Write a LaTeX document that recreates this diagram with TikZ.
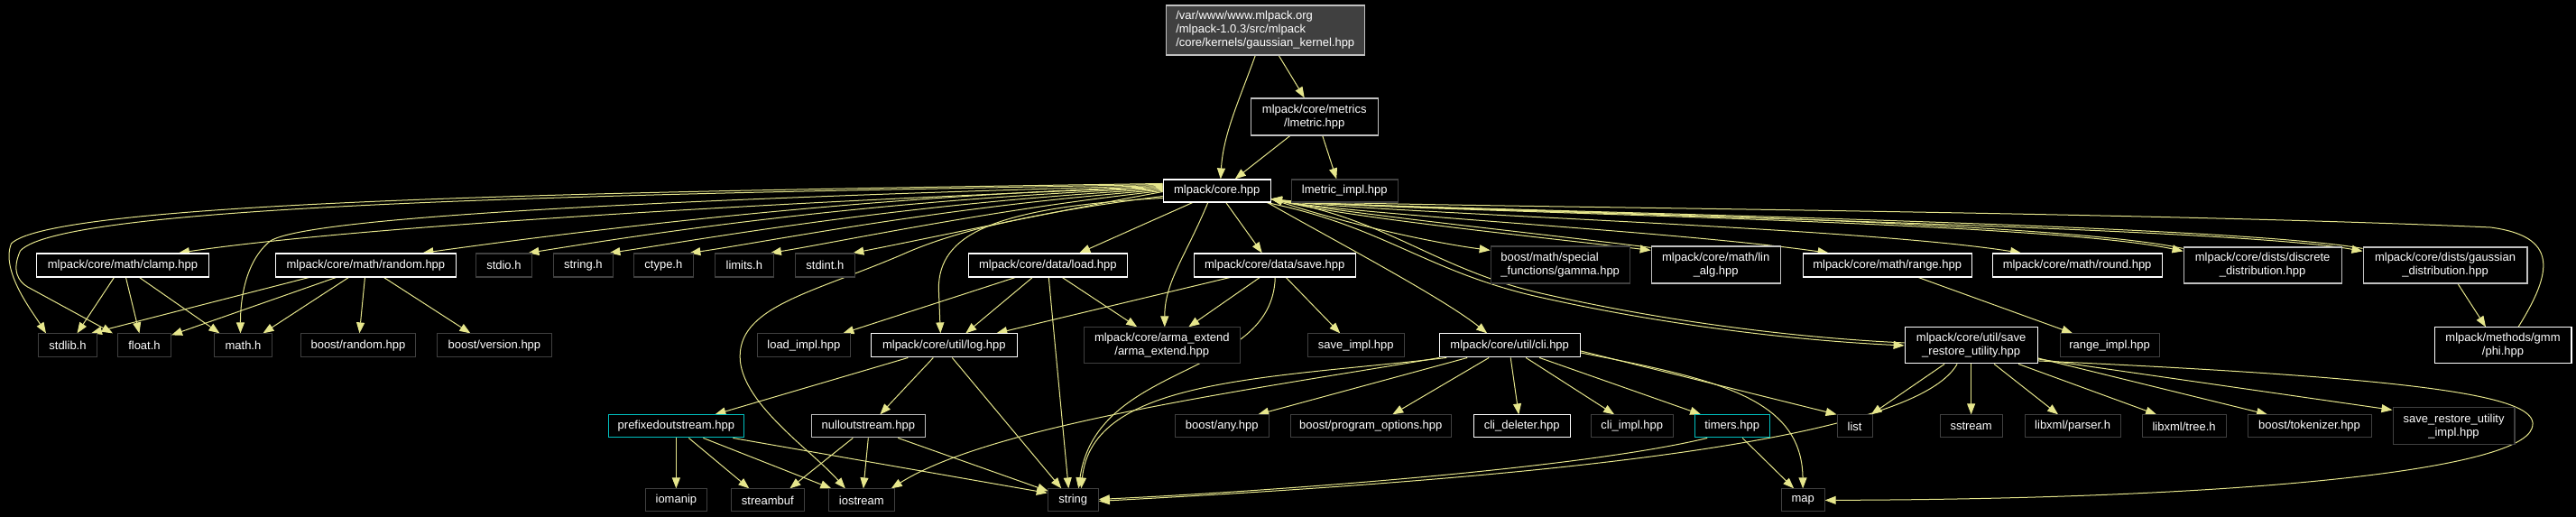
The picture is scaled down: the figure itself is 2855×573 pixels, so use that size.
\documentclass[tikz,border=0pt]{standalone}
\usepackage{fontspec}
\setmainfont{Liberation Sans}
\usetikzlibrary{arrows.meta}
\pgfdeclarelayer{background}
\pgfsetlayers{background,main}
\definecolor{ecol}{RGB}{230,230,140}
\definecolor{extc}{RGB}{64,64,64}
\definecolor{docgc}{RGB}{192,192,192}
\definecolor{trc}{RGB}{0,191,191}
\definecolor{rootf}{RGB}{64,64,64}
\begin{document}
\begin{tikzpicture}[x=1pt,y=-1pt,
  fbox/.style={draw, fill=black, text=white, inner sep=0pt, align=center, line width=1.1pt, font=\fontsize{13}{15}\selectfont},
  nodew/.style={fbox, draw=white},
  nodeg/.style={fbox, draw=docgc},
  nodex/.style={fbox, draw=extc},
  nodet/.style={fbox, draw=trc},
  wh/.style 2 args={minimum width=#1pt, minimum height=#2pt},
  conn/.style={draw=ecol, line width=1pt, -{Triangle[length=12pt,width=9pt]}}
]
% row 0/1
\node[fbox, draw=docgc, fill=rootf, align=left, wh={220}{55}] (gk) at (1402,33.5) {/var/www/www.mlpack.org\\/mlpack-1.0.3/src/mlpack\\/core/kernels/gaussian\_kernel.hpp};
\node[nodeg, wh={141}{41}] (lmetric) at (1456.5,129.5) {mlpack/core/metrics\\/lmetric.hpp};
\node[nodew, wh={119}{25}] (core) at (1348.5,211.5) {mlpack/core.hpp};
\node[nodex, wh={118}{25}] (lmimpl) at (1490,211.5) {lmetric\_impl.hpp};

% row 2
\node[nodew, wh={191}{26}] (clamp) at (135.5,294) {mlpack/core/math/clamp.hpp};
\node[nodew, wh={200}{26}] (random) at (405,294) {mlpack/core/math/random.hpp};
\node[nodex, wh={62}{26}] (stdio) at (558,294) {stdio.h};
\node[nodex, wh={66}{26}] (stringh) at (646,294) {string.h};
\node[nodex, wh={66}{26}] (ctype) at (735,294) {ctype.h};
\node[nodex, wh={65}{26}] (limits) at (824.5,294) {limits.h};
\node[nodex, wh={66}{26}] (stdint) at (914,294) {stdint.h};
\node[nodew, wh={176}{26}] (load) at (1161,294) {mlpack/core/data/load.hpp};
\node[nodew, wh={179}{26}] (save) at (1412.5,294) {mlpack/core/data/save.hpp};
\node[nodex, align=left, wh={154}{41}] (gamma) at (1729,293.5) {boost/math/special\\\_functions/gamma.hpp};
\node[nodeg, wh={143}{41}] (linalg) at (1901.5,293.5) {mlpack/core/math/lin\\\_alg.hpp};
\node[nodew, wh={187}{26}] (range) at (2091.5,294) {mlpack/core/math/range.hpp};
\node[nodew, wh={188}{26}] (round) at (2302,294) {mlpack/core/math/round.hpp};
\node[nodeg, wh={175}{40}] (discrete) at (2507.5,294) {mlpack/core/dists/discrete\\\_distribution.hpp};
\node[nodeg, wh={182}{40}] (gaussd) at (2710,294) {mlpack/core/dists/gaussian\\\_distribution.hpp};

% row 3
\node[nodex, wh={65}{26}] (stdlib) at (74.5,383) {stdlib.h};
\node[nodex, wh={59}{26}] (float) at (159.5,383) {float.h};
\node[nodex, wh={64}{26}] (math) at (269,383) {math.h};
\node[nodex, wh={127}{26}] (brandom) at (396.5,383) {boost/random.hpp};
\node[nodex, wh={127}{26}] (bversion) at (547.5,383) {boost/version.hpp};
\node[nodex, wh={103}{26}] (loadimpl) at (890.5,383) {load\_impl.hpp};
\node[nodew, wh={162}{26}] (log) at (1046,383) {mlpack/core/util/log.hpp};
\node[nodex, wh={173}{40}] (arma) at (1287.5,383) {mlpack/core/arma\_extend\\/arma\_extend.hpp};
\node[nodex, wh={107}{26}] (saveimpl) at (1502.5,383) {save\_impl.hpp};
\node[nodew, wh={156}{26}] (cli) at (1673,383) {mlpack/core/util/cli.hpp};
\node[nodew, wh={147}{40}] (sru) at (2184.5,383) {mlpack/core/util/save\\\_restore\_utility.hpp};
\node[nodex, wh={110}{26}] (rangeimpl) at (2338,383) {range\_impl.hpp};
\node[nodew, wh={152}{40}] (phi) at (2774,383) {mlpack/methods/gmm\\/phi.hpp};

% row 4
\node[nodet, wh={150}{25}] (prefixed) at (749,472.5) {prefixedoutstream.hpp};
\node[nodeg, wh={126}{25}] (nullout) at (962,472.5) {nulloutstream.hpp};
\node[nodex, wh={104}{25}] (bany) at (1354,472.5) {boost/any.hpp};
\node[nodex, wh={178}{25}] (bpo) at (1519,472.5) {boost/program\_options.hpp};
\node[nodew, wh={107}{25}] (clidel) at (1686.5,472.5) {cli\_deleter.hpp};
\node[nodex, wh={91}{25}] (cliimpl) at (1808.5,472.5) {cli\_impl.hpp};
\node[nodet, wh={83}{25}] (timers) at (1919.5,472.5) {timers.hpp};
\node[nodex, wh={39}{25}] (list) at (2055.5,472.5) {list};
\node[nodex, wh={69}{25}] (sstream) at (2184.5,472.5) {sstream};
\node[nodex, wh={106}{25}] (parser) at (2297,472.5) {libxml/parser.h};
\node[nodex, wh={93}{25}] (tree) at (2420.5,472.5) {libxml/tree.h};
\node[nodex, wh={137}{25}] (tokenizer) at (2559.5,472.5) {boost/tokenizer.hpp};
\node[nodex, wh={135}{41}] (sruimpl) at (2719.5,472.5) {save\_restore\_utility\\\_impl.hpp};

% row 5
\node[nodex, wh={68}{25}] (iomanip) at (749,554.5) {iomanip};
\node[nodex, wh={81}{25}] (streambuf) at (850.5,554.5) {streambuf};
\node[nodex, wh={73}{25}] (iostream) at (954.5,554.5) {iostream};
\node[nodex, wh={56}{25}] (string) at (1189,554.5) {string};
\node[nodex, wh={48}{25}] (map) at (1998,554.5) {map};

\begin{pgfonlayer}{background}
\fill[black] (0,0) rectangle (2855,573);

% top edges
\draw[conn] ([xshift=-11pt]gk.south) .. controls +(-18,50) and +(3,-50) .. ([xshift=4pt]core.north);
\draw[conn] ([xshift=15pt]gk.south) -- ([xshift=-11pt]lmetric.north);
\draw[conn] ([xshift=-27pt]lmetric.south) -- ([xshift=20pt]core.north);
\draw[conn] ([xshift=9pt]lmetric.south) -- ([xshift=-9pt]lmimpl.north);

% core -> left
\draw[conn] ([yshift=4pt]core.west) .. controls (900,222) and (400,250) .. ([xshift=62pt]clamp.north);
\draw[conn] ([yshift=5pt]core.west) .. controls (950,218) and (650,255) .. ([xshift=63pt]random.north);
\draw[conn] ([yshift=3pt]core.west) .. controls (950,222) and (700,262) .. ([xshift=27pt]stdio.north);
\draw[conn] ([yshift=2pt]core.west) .. controls (1000,225) and (780,265) .. ([xshift=29pt]stringh.north);
\draw[conn] ([yshift=1pt]core.west) .. controls (1050,228) and (850,268) .. ([xshift=29pt]ctype.north);
\draw[conn] (core.west) .. controls (1100,232) and (930,268) .. ([xshift=29pt]limits.north);
\draw[conn] ([yshift=-1pt]core.west) .. controls (1150,238) and (1010,268) .. ([xshift=31pt]stdint.north);
\draw[conn] ([yshift=8pt]core.west) .. controls (700,212) and (60,222) .. (12,270) .. controls (0,300) and (35,345) .. ([xshift=-24pt]stdlib.north);
\draw[conn] ([yshift=7pt]core.west) .. controls (700,215) and (70,225) .. (22,278) .. controls (12,300) and (20,312) .. (30,318) -- ([xshift=-35pt]float.north);
\draw[conn] ([yshift=6pt]core.west) .. controls (700,222) and (330,242) .. (298,268) .. controls (272,290) and (266,330) .. ([xshift=-3pt]math.north);

% core -> down
\draw[conn] ([xshift=-27pt]core.south) -- ([xshift=35pt]load.north);
\draw[conn] ([xshift=10pt]core.south) -- ([xshift=-14pt]save.north);
\draw[conn] ([xshift=-10pt]core.south) .. controls +(-25,60) and +(0,-50) .. ([xshift=3pt]arma.north);
\draw[conn] ([yshift=-8pt]core.west) .. controls (1100,230) and (1040,260) .. (1040,320) -- ([xshift=-4pt]log.north);
\draw[conn] ([yshift=-6pt]core.west) .. controls (1150,235) and (1060,255) .. (1000,282) .. controls (900,325) and (815,340) .. (820,400) .. controls (825,450) and (900,500) .. ([xshift=-18pt]iostream.north);
\draw[conn] ([xshift=-4pt]core.south east) .. controls +(70,40) and +(-50,-40) .. ([xshift=-25pt]cli.north);

% core -> right
\draw[conn] ([yshift=-9pt]core.east) .. controls (1480,245) and (1580,268) .. ([yshift=-5pt]gamma.north west);
\draw[conn] ([yshift=-9pt]core.east) .. controls (1480,240) and (1700,262) .. ([yshift=-5pt]linalg.north west);
\draw[conn] ([yshift=-2pt]linalg.north west) .. controls (1700,258) and (1485,236) .. ([yshift=-9pt]core.east);
\draw[conn] ([yshift=-9pt]core.east) .. controls (1470,237) and (1850,255) .. ([xshift=-65pt]range.north);
\draw[conn] ([yshift=-9pt]core.east) .. controls (1470,235) and (2050,250) .. ([xshift=-62pt]round.north);
\draw[conn] ([yshift=-9pt]core.east) .. controls (1470,234) and (2250,242) .. ([yshift=-5pt]discrete.north west);
\draw[conn] ([yshift=-2pt]discrete.north west) .. controls (2250,239) and (1475,232) .. ([yshift=-9pt]core.east);
\draw[conn] ([yshift=-9pt]core.east) .. controls (1470,233) and (2450,248) .. ([yshift=-5pt]gaussd.north west);
\draw[conn] ([yshift=-2pt]gaussd.north west) .. controls (2450,245) and (1475,231) .. ([yshift=-9pt]core.east);
\draw[conn] ([xshift=-5pt]core.south east) .. controls (1530,250) and (1580,300) .. (1700,328) .. controls (1850,362) and (2000,378) .. (sru.west);
\draw[conn] ([yshift=3pt]sru.west) .. controls (2000,375) and (1850,358) .. (1703,324) .. controls (1590,297) and (1540,245) .. ([yshift=-9pt]core.east);
\draw[conn] ([xshift=17pt]phi.north) .. controls (2830,300) and (2835,262) .. (2760,252) .. controls (2300,232) and (1480,229) .. ([yshift=-9pt]core.east);

\draw[conn] ([xshift=34.5pt]range.south) -- ([xshift=-41pt]rangeimpl.north);
\draw[conn] ([xshift=14pt]gaussd.south) -- ([xshift=-19pt]phi.north);

% clamp, random
\draw[conn] ([xshift=-9.5pt]clamp.south) -- ([xshift=10.5pt]stdlib.north);
\draw[conn] ([xshift=3.5pt]clamp.south) -- ([xshift=-5.5pt]float.north);
\draw[conn] ([xshift=18.5pt]clamp.south) -- ([xshift=-26pt]math.north);
\draw[conn] ([xshift=-63pt]random.south) -- ([xshift=26pt]stdlib.north);
\draw[conn] ([xshift=-33pt]random.south) -- ([yshift=-2pt]float.north east);
\draw[conn] ([xshift=-19pt]random.south) -- ([xshift=22pt]math.north);
\draw[conn] ([xshift=-1pt]random.south) -- ([xshift=1.5pt]brandom.north);
\draw[conn] ([xshift=20pt]random.south) -- ([xshift=-26.5pt]bversion.north);

% load, save
\draw[conn] ([xshift=-36pt]load.south) -- ([xshift=43.5pt]loadimpl.north);
\draw[conn] ([xshift=-17pt]load.south) -- ([xshift=24pt]log.north);
\draw[conn] ([xshift=16pt]load.south) -- ([xshift=-27.5pt]arma.north);
\draw[conn] ([xshift=1pt]load.south) -- ([xshift=-5pt]string.north);
\draw[conn] ([xshift=-49.5pt]save.south) -- ([xshift=58pt]log.north);
\draw[conn] ([xshift=-16.5pt]save.south) -- ([xshift=29.5pt]arma.north);
\draw[conn] ([xshift=12.5pt]save.south) -- ([xshift=-17.5pt]saveimpl.north);
\draw[conn] ([xshift=0.5pt]save.south) .. controls (1410,420) and (1215,400) .. ([xshift=6pt]string.north);

% log
\draw[conn] ([xshift=-40pt]log.south) -- ([xshift=43pt]prefixed.north);
\draw[conn] ([xshift=-12pt]log.south) -- ([xshift=13pt]nullout.north);
\draw[conn] ([xshift=9pt]log.south) -- ([xshift=-13pt]string.north);

% prefixed, nullout
\draw[conn] (prefixed.south) -- (iomanip.north);
\draw[conn] ([xshift=14pt]prefixed.south) -- ([xshift=-20.5pt]streambuf.north);
\draw[conn] ([xshift=30pt]prefixed.south) -- ([xshift=-33.5pt]iostream.north);
\draw[conn] ([xshift=63pt]prefixed.south) -- ([yshift=8pt]string.west);
\draw[conn] ([xshift=-17pt]nullout.south) -- ([xshift=24.5pt]streambuf.north);
\draw[conn] (nullout.south) -- ([xshift=2pt]iostream.north);
\draw[conn] ([xshift=33pt]nullout.south) -- ([xshift=1pt,yshift=-3pt]string.north west);

% cli
\draw[conn] ([xshift=-70pt]cli.south) .. controls (1400,420) and (1210,420) .. ([xshift=9pt]string.north);
\draw[conn] ([xshift=-78pt]cli.south) .. controls (1400,430) and (1100,470) .. ([xshift=33pt]iostream.north);
\draw[conn] ([xshift=-47pt]cli.south) -- ([xshift=40pt]bany.north);
\draw[conn] ([xshift=-23pt]cli.south) -- ([xshift=24pt]bpo.north);
\draw[conn] ([xshift=1pt]cli.south) -- ([xshift=-3.5pt]clidel.north);
\draw[conn] ([xshift=18pt]cli.south) -- ([xshift=-19.5pt]cliimpl.north);
\draw[conn] ([xshift=33pt]cli.south) -- ([xshift=-34.5pt]timers.north);
\draw[conn] ([yshift=-6pt]cli.east) -- (list.north west);
\draw[conn] ([yshift=-8pt]cli.east) .. controls (1900,420) and (1997,440) .. (map.north);

% timers
\draw[conn] ([xshift=11.5pt]timers.south) -- ([xshift=-10pt]map.north);
\draw[conn] ([xshift=-27.5pt]timers.south) .. controls (1750,520) and (1400,545) .. ([yshift=1pt]string.east);

% save restore utility
\draw[conn] ([xshift=-29.5pt]sru.south) -- ([xshift=-2pt]list.north east);
\draw[conn] ([xshift=-15.5pt]sru.south) .. controls (2120,490) and (1700,530) .. ([yshift=-1pt]string.east);
\draw[conn] (sru.south) -- (sstream.north);
\draw[conn] ([xshift=25.5pt]sru.south) -- ([xshift=-16pt]parser.north);
\draw[conn] ([xshift=52.5pt]sru.south) -- ([xshift=-30.5pt]tree.north);
\draw[conn] ([yshift=-14pt]sru.east) -- ([xshift=-46.5pt]tokenizer.north);
\draw[conn] ([yshift=-15pt]sru.east) -- ([yshift=-3pt]sruimpl.north west);
\draw[conn] ([yshift=-17pt]sru.east) .. controls (2700,420) and (2820,440) .. (2806,475) .. controls (2790,520) and (2500,553) .. (map.east);
\end{pgfonlayer}
\end{tikzpicture}
\end{document}
